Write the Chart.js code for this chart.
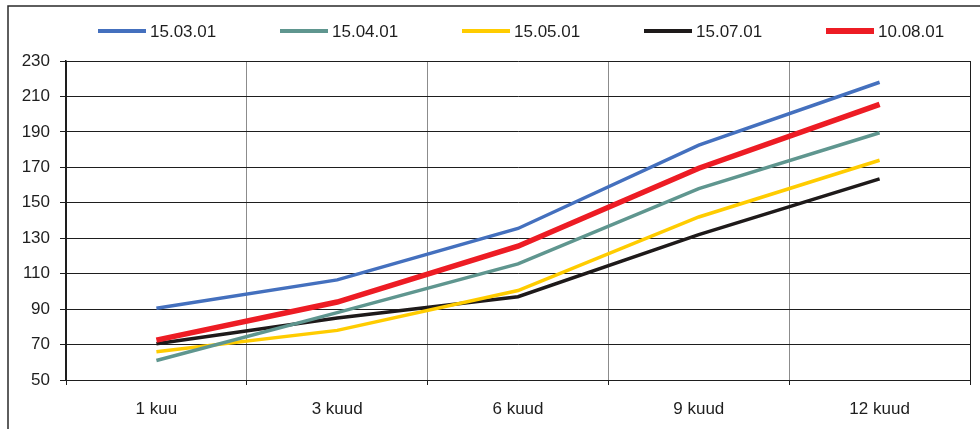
<!DOCTYPE html>
<html>
<head>
<meta charset="utf-8">
<script src="https://cdn.jsdelivr.net/npm/chart.js@4/dist/chart.umd.min.js"></script>
<style>
  html, body { margin: 0; padding: 0; background: #fff; }
  #wrap { width: 980px; height: 429px; position: relative; }
</style>
</head>
<body>
<div id="wrap"><canvas id="c" width="980" height="429"></canvas></div>
<script>
// Periods on the x axis
const periods = ['1 kuu', '3 kuud', '6 kuud', '9 kuud', '12 kuud'];

// One curve per quotation date
const seriesNames = ['15.03.01', '15.04.01', '15.05.01', '15.07.01', '10.08.01'];
const s150301 = [90.5, 106.5, 135.5, 182.5, 218];
const s150401 = [61, 88, 115.5, 158, 189.5];
const s150501 = [66, 78, 100.5, 142, 174];
const s150701 = [70.5, 85, 97, 132, 163.5];
const s100801 = [72.5, 94, 125.5, 169.5, 205.5];

// Value axis range
const yMin = 50;
const yMax = 230;
const yStep = 20;

const seriesValues = [s150301, s150401, s150501, s150701, s100801];
const seriesColors = ['#4470BE', '#5F968F', '#FFCC00', '#1E1A1A', '#ED1C24'];
const seriesWidths = [3.5, 3.5, 3.5, 3.5, 5.5];

const FONT = "'Liberation Sans', Arial, sans-serif";
const TEXT = '#1e1e1e';

// Outer frame line round the whole chart
const framePlugin = {
  id: 'frame',
  beforeDraw(chart) {
    const ctx = chart.ctx;
    ctx.save();
    ctx.strokeStyle = '#2a2a2a';
    ctx.lineWidth = 1.5;
    ctx.beginPath();
    ctx.moveTo(8, chart.height);
    ctx.lineTo(8, 6);
    ctx.lineTo(chart.width, 6);
    ctx.stroke();
    ctx.restore();
  }
};

// Legend row: a short line sample followed by the series name
const lineLegend = {
  id: 'lineLegend',
  afterDraw(chart, args, opts) {
    const ctx = chart.ctx;
    ctx.save();
    ctx.font = opts.fontSize + 'px ' + FONT;
    ctx.textBaseline = 'middle';
    ctx.fillStyle = TEXT;
    chart.data.datasets.forEach((ds, i) => {
      const x0 = opts.startX + i * opts.step;
      ctx.strokeStyle = ds.borderColor;
      ctx.lineWidth = ds.borderWidth + 0.5;
      ctx.beginPath();
      ctx.moveTo(x0, opts.y);
      ctx.lineTo(x0 + opts.sampleWidth, opts.y);
      ctx.stroke();
      ctx.fillText(ds.label, x0 + opts.sampleWidth + 4, opts.y + 1);
    });
    ctx.restore();
  }
};

const datasets = seriesNames.map((name, i) => ({
  label: name,
  data: seriesValues[i],
  borderColor: seriesColors[i],
  backgroundColor: seriesColors[i],
  borderWidth: seriesWidths[i],
  pointRadius: 0,
  pointHoverRadius: 0,
  tension: 0,
  fill: false,
  order: i === 4 ? 0 : 1
}));

new Chart(document.getElementById('c'), {
  type: 'line',
  data: { labels: periods, datasets },
  plugins: [framePlugin, lineLegend],
  options: {
    responsive: false,
    animation: false,
    devicePixelRatio: 1,
    layout: { padding: { left: 8, top: 61, right: 10, bottom: 0 } },
    plugins: {
      legend: { display: false },
      tooltip: { enabled: false },
      lineLegend: { startX: 98, step: 182, y: 31, sampleWidth: 48, fontSize: 17 }
    },
    scales: {
      x: {
        offset: true,
        grid: {
          offset: true,
          drawOnChartArea: true,
          color: (c) => (c.type === 'scale' || c.index === 0) ? '#1e1e1e' : '#8c8c8c',
          tickColor: '#1e1e1e',
          tickLength: 5,
          lineWidth: 1
        },
        border: { display: true, color: '#1e1e1e', width: 1 },
        ticks: { color: TEXT, font: { family: FONT, size: 17 }, padding: 14, maxRotation: 0 },
        afterFit(scale) { scale.height = 49; }
      },
      y: {
        min: yMin,
        max: yMax,
        ticks: { stepSize: yStep, color: TEXT, font: { family: FONT, size: 17 }, padding: 10 },
        grid: { color: '#1e1e1e', tickColor: '#1e1e1e', tickLength: 6, lineWidth: 1 },
        border: { display: true, color: '#1e1e1e', width: 1.5 },
        afterFit(scale) { scale.width = 58; }
      }
    }
  }
});
</script>
</body>
</html>
